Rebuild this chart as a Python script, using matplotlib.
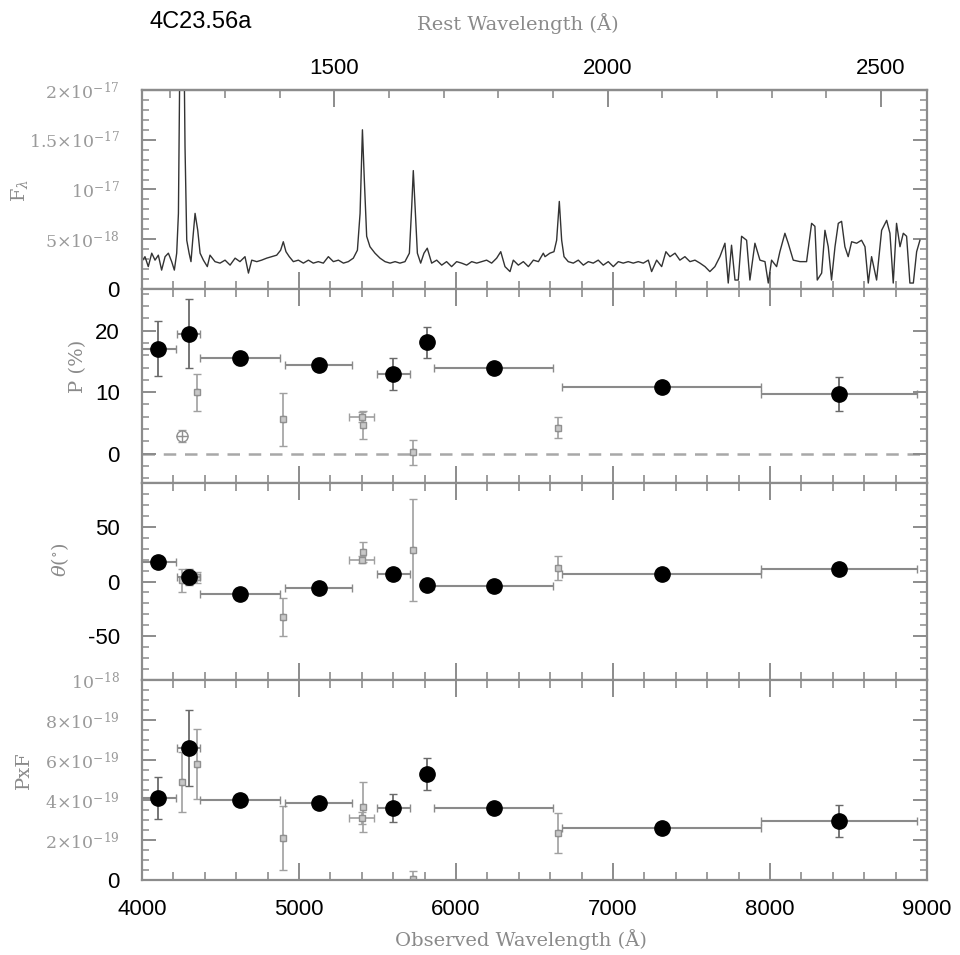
import numpy as np
import matplotlib
matplotlib.use('Agg')
import matplotlib.pyplot as plt
from matplotlib.ticker import MultipleLocator, FixedLocator

# ---------------- data ----------------
redshift = 2.483
spec_wave = [3998, 4019, 4040, 4062, 4083, 4104, 4125, 4147, 4168, 4189, 4206, 4221,
             4232, 4238, 4245, 4264, 4274, 4285, 4300, 4312, 4323, 4338, 4355, 4370,
             4391, 4416, 4433, 4465, 4497, 4529, 4561, 4593, 4624, 4656, 4678, 4699,
             4731, 4762, 4794, 4826, 4858, 4883, 4900, 4917, 4938, 4964, 4996, 5028,
             5060, 5091, 5123, 5155, 5187, 5219, 5251, 5283, 5314, 5346, 5372, 5389,
             5404, 5416, 5431, 5452, 5484, 5516, 5548, 5580, 5612, 5643, 5675, 5703,
             5718, 5728, 5739, 5754, 5775, 5796, 5817, 5845, 5877, 5909, 5940, 5972,
             6004, 6036, 6068, 6100, 6132, 6164, 6195, 6227, 6259, 6285, 6312, 6344,
             6365, 6397, 6429, 6461, 6493, 6525, 6556, 6567, 6598, 6624, 6641, 6658,
             6673, 6688, 6715, 6747, 6779, 6811, 6843, 6874, 6906, 6938, 6970, 7002,
             7034, 7065, 7097, 7129, 7161, 7193, 7225, 7246, 7278, 7310, 7337, 7363,
             7395, 7426, 7458, 7490, 7522, 7554, 7586, 7617, 7649, 7681, 7713, 7734,
             7755, 7777, 7798, 7819, 7851, 7872, 7904, 7936, 7968, 7989, 8010, 8042,
             8063, 8095, 8116, 8148, 8191, 8233, 8265, 8286, 8301, 8329, 8350, 8371,
             8392, 8414, 8435, 8456, 8477, 8498, 8520, 8552, 8583, 8605, 8626, 8647,
             8679, 8711, 8743, 8764, 8785, 8806, 8828, 8849, 8870, 8891, 8913, 8934,
             8955]
spec_flux = [2.75, 3.25, 2.25, 3.6, 2.9, 3.4, 1.9, 3.25, 3.6, 2.75, 1.9, 3.6,
             7.6, 17.7, 30.0, 30.0, 14.3, 4.9, 3.6, 2.75, 4.9, 7.6, 5.9, 3.6,
             2.9, 2.25, 3.4, 2.75, 2.6, 2.9, 2.4, 3.1, 2.75, 3.25, 1.6, 2.9,
             2.75, 2.9, 3.1, 3.25, 3.4, 3.9, 4.75, 3.75, 3.25, 2.75, 2.9, 2.6,
             2.9, 2.6, 2.75, 2.6, 3.25, 2.75, 2.9, 2.6, 2.75, 3.1, 3.9, 7.6,
             16.0, 11.0, 5.3, 4.25, 3.6, 3.1, 2.75, 2.6, 2.75, 2.6, 2.75, 3.6,
             8.3, 11.9, 8.3, 3.6, 2.6, 3.6, 4.1, 2.6, 2.9, 2.4, 2.75, 2.25,
             2.75, 2.6, 2.4, 2.75, 2.6, 2.75, 2.9, 2.6, 3.1, 3.75, 2.25, 1.75,
             2.9, 2.4, 2.75, 2.25, 2.9, 2.75, 3.6, 3.25, 3.6, 3.75, 4.9, 8.8,
             4.9, 3.25, 2.75, 2.6, 2.9, 2.4, 2.75, 2.6, 2.9, 2.4, 2.75, 2.25,
             2.75, 2.6, 2.75, 2.6, 2.75, 2.6, 2.9, 1.75, 2.9, 2.25, 3.75, 3.25,
             3.6, 2.9, 3.25, 2.75, 2.9, 2.6, 2.25, 1.75, 2.25, 3.25, 4.6, 0.6,
             4.4, 0.9, 0.9, 5.3, 4.9, 0.9, 4.6, 2.9, 2.75, 0.6, 2.9, 2.25,
             3.75, 5.6, 4.6, 2.9, 2.75, 2.75, 6.6, 6.3, 0.9, 1.6, 5.9, 4.25,
             0.9, 4.25, 6.6, 6.8, 4.25, 3.25, 4.75, 4.6, 4.9, 4.25, 0.6, 3.25,
             0.9, 5.9, 6.9, 5.6, 0.6, 6.6, 4.25, 5.6, 5.3, 0.6, 0.6, 3.75,
             4.9]  # units of 1e-18

# binned measurements (filled circles)
bin_wave = [4100, 4300, 4625, 5125, 5600, 5815, 6240, 7310, 8440]
bin_wlo = [115, 75, 255, 215, 105, 0, 380, 635, 497]
bin_whi = [115, 70, 255, 215, 105, 0, 378, 633, 496]
bin_p = [17.1, 19.5, 15.5, 14.5, 12.9, 18.1, 14.0, 10.8, 9.7]
bin_perr = [4.5, 5.6, 1.0, 1.0, 2.6, 2.5, 0.8, 0.8, 2.7]
bin_theta = [17.8, 4.1, -11.4, -6.0, 6.9, -3.2, -4.1, 6.9, 11.4]
bin_theta_err = [3.0, 7.0, 3.0, 3.0, 3.0, 3.0, 2.0, 2.0, 3.0]
bin_pf = [4.1, 6.6, 4.0, 3.85, 3.6, 5.3, 3.6, 2.6, 2.95]  # 1e-19
bin_pf_err = [1.05, 1.9, 0.2, 0.2, 0.72, 0.8, 0.2, 0.2, 0.8]

# line-region measurements (small grey symbols)
line_wave = [4255, 4350, 4898, 5400, 5410, 5726, 6650]
line_wlo = [0, 0, 0, 80, 0, 0, 0]
line_whi = [0, 0, 0, 80, 0, 0, 0]
line_p = [2.9, 10.0, 5.6, 6.0, 4.7, 0.2, 4.2]
line_perr = [1.0, 3.0, 4.3, 0.8, 2.3, 2.0, 1.7]
line_theta = [1.3, 4.0, -32.5, 20.0, 27.0, 28.8, 12.3]
line_theta_err = [10.5, 5.0, 17.5, 3.0, 9.0, 47.0, 11.0]
line_pf = [4.9, 5.8, 2.1, 3.1, 3.65, 0.05, 2.35]  # 1e-19
line_pf_err = [1.5, 1.75, 1.6, 0.3, 1.25, 0.4, 1.0]

# tick labels
rest_major = [1500, 2000, 2500]
rest_minor = [1200, 1300, 1400, 1600, 1700, 1800, 1900, 2100, 2200, 2300, 2400]
flux_ticks = [0, 5e-18, 1e-17, 1.5e-17, 2e-17]
flux_labels = ['0', r'$5{\times}10^{-18}$', r'$10^{-17}$', r'$1.5{\times}10^{-17}$', r'$2{\times}10^{-17}$']
p_ticks = [0, 10, 20]
p_labels = ['0', '10', '20']
theta_ticks = [-50, 0, 50]
theta_labels = ['-50', '0', '50']
pf_ticks = [0, 2e-19, 4e-19, 6e-19, 8e-19, 1e-18]
pf_labels = ['0', r'$2{\times}10^{-19}$', r'$4{\times}10^{-19}$', r'$6{\times}10^{-19}$',
             r'$8{\times}10^{-19}$', r'$10^{-18}$']

# ---------------- drawing ----------------
plt.rcParams['mathtext.fontset'] = 'dejavuserif'
W, H = 960, 955
fig = plt.figure(figsize=(W / 100, H / 100), dpi=100)

FRAME = '#8c8c8c'
GREY_TXT = '#9a9a9a'
SANS = 'Liberation Sans'
SERIF = 'DejaVu Serif'


def px_ax(top, bottom):
    return [142 / W, 1 - bottom / H, 785 / W, (bottom - top) / H]


ax0 = fig.add_axes(px_ax(90, 289))
ax1 = fig.add_axes(px_ax(289, 483))
ax2 = fig.add_axes(px_ax(483, 680))
ax3 = fig.add_axes(px_ax(680, 880))


def style(ax, ticks, labels, minor, top=True):
    ax.set_xlim(4000, 9000)
    ax.xaxis.set_major_locator(MultipleLocator(1000))
    ax.xaxis.set_minor_locator(MultipleLocator(200))
    ax.yaxis.set_major_locator(FixedLocator(ticks))
    ax.yaxis.set_minor_locator(MultipleLocator(minor))
    ax.set_yticklabels(labels)
    for s in ax.spines.values():
        s.set_color(FRAME)
        s.set_linewidth(1.6)
    ax.tick_params(axis='x', which='major', direction='in', length=12, width=1.4,
                   color=FRAME, top=top, bottom=True)
    ax.tick_params(axis='x', which='minor', direction='in', length=6, width=1.2,
                   color=FRAME, top=top, bottom=True)
    ax.tick_params(axis='y', which='major', direction='in', length=10, width=1.4,
                   color=FRAME, left=True, right=True, pad=16)
    ax.tick_params(axis='y', which='minor', direction='in', length=5, width=1.1,
                   color=FRAME, left=True, right=True)
    for lab in ax.get_yticklabels():
        txt = lab.get_text()
        if 'times' in txt or '10^' in txt:
            lab.set_color(GREY_TXT)
            lab.set_fontsize(12.5)
        else:
            lab.set_color('black')
            lab.set_fontsize(16)
            lab.set_fontfamily(SANS)
    ax.tick_params(axis='x', labelbottom=False)


# --- spectrum panel ---
ax0.plot(spec_wave, np.array(spec_flux) * 1e-18, color='#333333', lw=1.0)
ax0.set_ylim(0, 2e-17)
style(ax0, flux_ticks, flux_labels, 1e-18, top=False)
sec = ax0.secondary_xaxis('top', functions=(lambda x: x / (1 + redshift),
                                            lambda x: x * (1 + redshift)))
sec.xaxis.set_major_locator(FixedLocator(rest_major))
sec.xaxis.set_minor_locator(FixedLocator(rest_minor))
sec.tick_params(axis='x', which='major', direction='in', length=12, width=1.4,
                color=FRAME, labelsize=16, pad=8)
sec.tick_params(axis='x', which='minor', direction='in', length=6, width=1.2, color=FRAME)
sec.spines['top'].set_color(FRAME)
sec.spines['top'].set_linewidth(1.6)
for lab in sec.get_xticklabels():
    lab.set_fontfamily(SANS)


def draw_points(ax, yb, yberr, yl, ylerr, scale=1.0):
    yb = np.array(yb) * scale
    yberr = np.array(yberr) * scale
    yl = np.array(yl) * scale
    ylerr = np.array(ylerr) * scale
    # grey line-region points
    ax.errorbar(line_wave, yl, xerr=[line_wlo, line_whi], fmt='none',
                ecolor='#a0a0a0', elinewidth=1.2, capsize=3, zorder=2)
    ax.errorbar(line_wave, yl, yerr=ylerr, fmt='s', color='#a0a0a0', ms=4,
                mfc='#c8c8c8', mec='#909090', elinewidth=1.2, capsize=3, zorder=2)
    # binned points
    ax.errorbar(bin_wave, yb, xerr=[bin_wlo, bin_whi], fmt='none',
                ecolor='#8a8a8a', elinewidth=1.5, capsize=3, zorder=3)
    ax.errorbar(bin_wave, yb, yerr=yberr, fmt='none',
                ecolor='#6a6a6a', elinewidth=1.3, capsize=3, zorder=3)
    ax.plot(bin_wave, yb, 'o', color='black', ms=11, zorder=4)


# --- P panel ---
draw_points(ax1, bin_p, bin_perr, line_p, line_perr)
ax1.plot(line_wave[:1], line_p[:1], 'o', mfc='white', mec='#909090', ms=8, zorder=3)
ax1.plot(line_wave[:1], line_p[:1], '+', color='#909090', ms=8, zorder=3)
ax1.axhline(0, color='#a8a8a8', lw=1.8, ls=(0, (5, 3.5)), zorder=1)
ax1.set_ylim(-4.8, 26.8)
style(ax1, p_ticks, p_labels, 2)

# --- theta panel ---
draw_points(ax2, bin_theta, bin_theta_err, line_theta, line_theta_err)
ax2.set_ylim(-90, 90)
style(ax2, theta_ticks, theta_labels, 10)

# --- P x F panel ---
draw_points(ax3, bin_pf, bin_pf_err, line_pf, line_pf_err, scale=1e-19)
ax3.set_ylim(0, 1e-18)
style(ax3, pf_ticks, pf_labels, 5e-20)
ax3.tick_params(axis='x', labelbottom=True, labelsize=16, pad=14)
for lab in ax3.get_xticklabels():
    lab.set_fontfamily(SANS)

# --- texts ---
fig.text(150 / W, 1 - 22 / H, '4C23.56a', fontsize=17, family=SANS,
         ha='left', va='center', color='black')
fig.text(518 / W, 1 - 24 / H, 'Rest Wavelength (Å)', fontsize=14, family=SERIF,
         ha='center', va='center', color='#8a8a8a')
fig.text(521 / W, 1 - 940 / H, 'Observed Wavelength (Å)', fontsize=14, family=SERIF,
         ha='center', va='center', color='#8a8a8a')
fig.text(20 / W, 1 - 190 / H, r'$\mathrm{F}_{\lambda}$', fontsize=14, rotation=90,
         ha='center', va='center', color='#8a8a8a')
fig.text(78 / W, 1 - 366 / H, 'P (%)', fontsize=14, family=SERIF, rotation=90,
         ha='center', va='center', color='#8a8a8a')
fig.text(60 / W, 1 - 560 / H, r'$\theta(^{\circ})$', fontsize=14, rotation=90,
         ha='center', va='center', color='#8a8a8a')
fig.text(24 / W, 1 - 770 / H, 'PxF', fontsize=14, family=SERIF, rotation=90,
         ha='center', va='center', color='#8a8a8a')

fig.savefig('out.png', dpi=100)
